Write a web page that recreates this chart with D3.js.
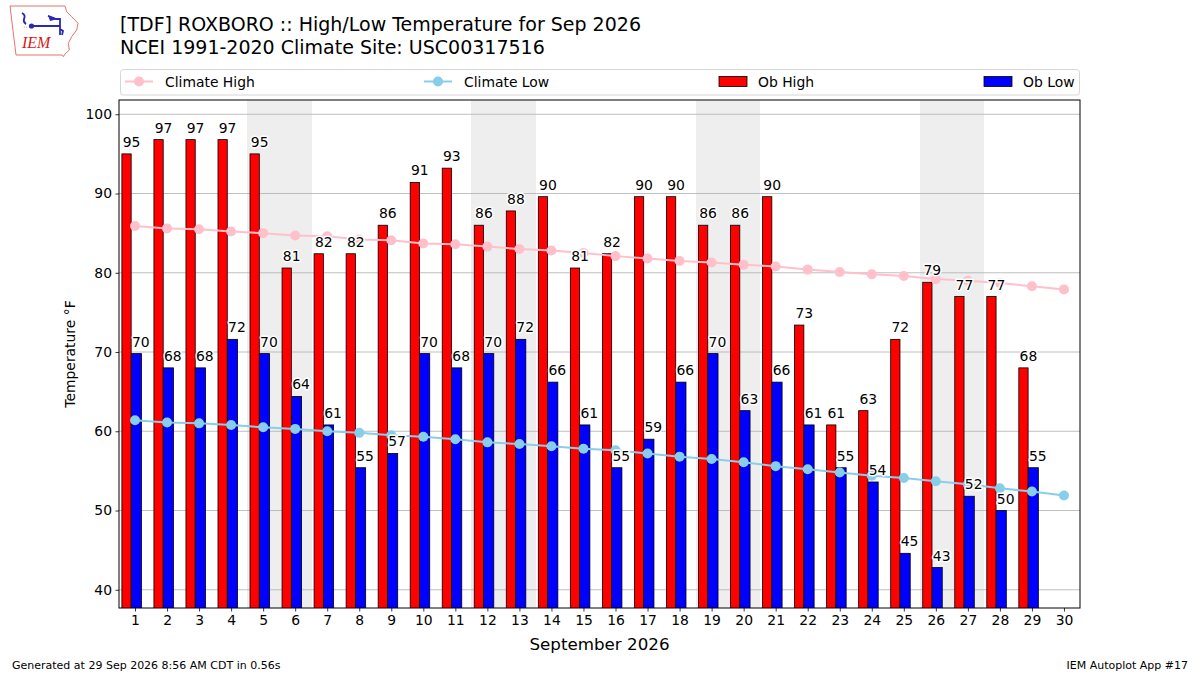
<!DOCTYPE html>
<head>
<meta charset="utf-8">
<style>
body { margin: 0; background: #fff; }
svg text { font-family: 'DejaVu Sans', sans-serif; }
.grid line { stroke: #b0b0b0; stroke-width: 0.8; }
.wk { shape-rendering: crispEdges; }
.lbl { font-size: 13.9px; fill: #000; stroke: #fff; stroke-width: 3; paint-order: stroke; stroke-linejoin: round; }
</style>
</head>
<body>
<div id="chart1"></div>
<script src="https://d3js.org/d3.v7.min.js"></script>
<script>

// data (°F)
var days = d3.range(1, 31);
var obHigh = [95.0, 96.8, 96.8, 96.8, 95.0, 80.6, 82.4, 82.4, 86.0, 91.4,
              93.2, 86.0, 87.8, 89.6, 80.6, 82.4, 89.6, 89.6, 86.0, 86.0,
              89.6, 73.4, 60.8, 62.6, 71.6, 78.8, 77.0, 77.0, 68.0, null];
var obLow = [69.8, 68.0, 68.0, 71.6, 69.8, 64.4, 60.8, 55.4, 57.2, 69.8,
             68.0, 69.8, 71.6, 66.2, 60.8, 55.4, 59.0, 66.2, 69.8, 62.6,
             66.2, 60.8, 55.4, 53.6, 44.6, 42.8, 51.8, 50.0, 55.4, null];
var climHigh = [85.9, 85.6, 85.5, 85.2, 85.0, 84.7, 84.6, 84.2, 84.1, 83.7,
                83.6, 83.3, 83.0, 82.8, 82.5, 82.1, 81.8, 81.5, 81.3, 81.0,
                80.8, 80.4, 80.1, 79.8, 79.6, 79.2, 79.0, 78.7, 78.3, 77.9];
var climLow = [61.4, 61.1, 61.0, 60.8, 60.5, 60.3, 60.0, 59.8, 59.5, 59.3,
               59.0, 58.6, 58.4, 58.1, 57.8, 57.6, 57.2, 56.8, 56.5, 56.1,
               55.6, 55.2, 54.8, 54.4, 54.1, 53.7, 53.3, 52.8, 52.4, 51.9];
var yTicks = [40, 50, 60, 70, 80, 90, 100];

var W = 1200, H = 675;
var plot = {left: 119, right: 1080, top: 100, bottom: 608};

var svg = d3.select('#chart1').append('svg')
    .attr('width', W).attr('height', H);

var x = d3.scaleLinear().domain([0.5, 30.5]).range([plot.left, plot.right]);
var y = d3.scaleLinear().domain([37.7, 101.8]).range([plot.bottom, plot.top]);
var fmt = d3.format('.0f');

svg.append('clipPath').attr('id', 'clip')
  .append('rect')
    .attr('x', plot.left).attr('y', plot.top)
    .attr('width', plot.right - plot.left).attr('height', plot.bottom - plot.top);

var g = svg.append('g').attr('clip-path', 'url(#clip)');

// weekend shading
var weekends = days.filter(function(d) {
  var wd = new Date(2026, 8, d).getDay();
  return wd === 0 || wd === 6;
});
g.selectAll('.wk')
  .data(weekends)
  .enter().append('rect')
    .attr('class', 'wk')
    .attr('x', function(d) { return x(d - 0.5); })
    .attr('y', plot.top)
    .attr('width', x(1.5) - x(0.5) + 0.5)
    .attr('height', plot.bottom - plot.top)
    .attr('fill', '#eeeeee');

// grid
g.append('g').attr('class', 'grid')
  .selectAll('line')
  .data(yTicks)
  .enter().append('line')
    .attr('x1', plot.left).attr('x2', plot.right)
    .attr('y1', function(d) { return y(d); })
    .attr('y2', function(d) { return y(d); });

function bars(vals, off, w, color) {
  g.selectAll(null)
    .data(days.filter(function(d, i) { return vals[i] !== null; }))
    .enter().append('rect')
      .attr('x', function(d) { return x(d + off); })
      .attr('y', function(d) { return y(vals[d - 1]); })
      .attr('width', x(w) - x(0))
      .attr('height', function(d) { return y(0) - y(vals[d - 1]); })
      .attr('fill', color)
      .attr('stroke', '#000')
      .attr('stroke-width', 0.8);
}
bars(obHigh, -0.41, 0.29, '#ff0000');
bars(obLow, -0.12, 0.32, '#0000ff');

function climLine(vals, color) {
  var line = d3.line()
    .x(function(d) { return x(d); })
    .y(function(d) { return y(vals[d - 1]); });
  g.append('path')
    .datum(days)
    .attr('d', line)
    .attr('fill', 'none')
    .attr('stroke', color)
    .attr('stroke-width', 2);
  g.selectAll(null)
    .data(days)
    .enter().append('circle')
      .attr('cx', function(d) { return x(d); })
      .attr('cy', function(d) { return y(vals[d - 1]); })
      .attr('r', 5)
      .attr('fill', color);
}
climLine(climHigh, '#ffc0cb');
climLine(climLow, '#87ceeb');

function labels(vals, off) {
  svg.selectAll(null)
    .data(days.filter(function(d, i) { return vals[i] !== null; }))
    .enter().append('text')
      .attr('class', 'lbl')
      .attr('x', function(d) { return x(d + off) + 0.8; })
      .attr('y', function(d) { return y(vals[d - 1]) - 7; })
      .text(function(d) { return fmt(vals[d - 1]); });
}
labels(obHigh, -0.41);
labels(obLow, -0.12);

// axes
var xAxis = svg.append('g')
    .attr('transform', 'translate(0,' + plot.bottom + ')')
    .call(d3.axisBottom(x).tickValues(days).tickFormat(d3.format('d')).tickSizeOuter(0).tickSize(3.5).tickPadding(3.5));
var yAxis = svg.append('g')
    .attr('transform', 'translate(' + plot.left + ',0)')
    .call(d3.axisLeft(y).tickValues(yTicks).tickSizeOuter(0).tickSize(3.5).tickPadding(3.5));
[xAxis, yAxis].forEach(function(a) {
  a.select('.domain').remove();
  a.selectAll('text').style('font-size', '13.9px').style('font-family', 'DejaVu Sans').attr('fill', '#000');
  a.selectAll('line').attr('stroke', '#000').attr('stroke-width', 0.8);
});

svg.append('rect')
    .attr('x', plot.left).attr('y', plot.top)
    .attr('width', plot.right - plot.left).attr('height', plot.bottom - plot.top)
    .attr('fill', 'none').attr('stroke', '#000').attr('stroke-width', 1);

svg.append('text')
    .attr('transform', 'translate(75,' + ((plot.top + plot.bottom) / 2) + ') rotate(-90)')
    .attr('text-anchor', 'middle')
    .style('font-size', '13.9px')
    .text('Temperature °F');

svg.append('text')
    .attr('x', (plot.left + plot.right) / 2).attr('y', 650)
    .attr('text-anchor', 'middle')
    .style('font-size', '16.7px')
    .text('September 2026');

// titles
svg.append('text').attr('x', 120).attr('y', 31)
    .style('font-size', '19px').text('[TDF] ROXBORO :: High/Low Temperature for Sep 2026');
svg.append('text').attr('x', 120).attr('y', 54)
    .style('font-size', '19px').text('NCEI 1991-2020 Climate Site: USC00317516');

// legend
var leg = svg.append('g');
leg.append('rect')
    .attr('x', 120.5).attr('y', 69.5).attr('width', 959).attr('height', 25.5)
    .attr('rx', 3).attr('fill', '#fff').attr('stroke', '#d6d6d6');
var legItems = [
  {name: 'Climate High', color: '#ffc0cb', type: 'line', x: 125},
  {name: 'Climate Low', color: '#87ceeb', type: 'line', x: 424},
  {name: 'Ob High', color: '#ff0000', type: 'bar', x: 719},
  {name: 'Ob Low', color: '#0000ff', type: 'bar', x: 984}
];
legItems.forEach(function(it) {
  if (it.type === 'line') {
    leg.append('line').attr('x1', it.x).attr('x2', it.x + 28).attr('y1', 81.5).attr('y2', 81.5)
      .attr('stroke', it.color).attr('stroke-width', 2);
    leg.append('circle').attr('cx', it.x + 14).attr('cy', 81.5).attr('r', 5).attr('fill', it.color);
    leg.append('text').attr('x', it.x + 40).attr('y', 86.5).style('font-size', '13.9px').text(it.name);
  } else {
    leg.append('rect').attr('x', it.x).attr('y', 76.5).attr('width', 28).attr('height', 10)
      .attr('fill', it.color).attr('stroke', '#000').attr('stroke-width', 0.8);
    leg.append('text').attr('x', it.x + 39).attr('y', 86.5).style('font-size', '13.9px').text(it.name);
  }
});

// footer
svg.append('text').attr('x', 12).attr('y', 669).style('font-size', '11px')
    .text('Generated at 29 Sep 2026 8:56 AM CDT in 0.56s');
svg.append('text').attr('x', 1188).attr('y', 669).attr('text-anchor', 'end').style('font-size', '11px')
    .text('IEM Autoplot App #17');

// IEM logo (rough)
var logo = svg.append('g');
logo.append('path')
    .attr('d', 'M10,6 L65,6 L66.7,11.7 L71.7,16.7 L78,23.3 L76.7,30 L71.7,36.7 L68.3,43.3 L69.3,50 L65,54 L63.3,56.7 L62,55 L16,55 L15,46.7 L13.3,33 L11.7,20 Z')
    .attr('fill', 'none').attr('stroke', '#e8736b').attr('stroke-width', 1);
logo.append('path')
    .attr('d', 'M22,13 Q26,15 24,19 Q23,22 26,24 M31,26 L60,26 M48,16 L56,19 L60,19 M60,18 L60,35 M60,29 L63,31 L62,35')
    .attr('fill', 'none').attr('stroke', '#2a2ab0').attr('stroke-width', 1.8);
logo.append('path')
    .attr('d', 'M48,15 L58,19 L50,21 Z').attr('fill', '#2a2ab0');
logo.append('circle').attr('cx', 31.5).attr('cy', 26).attr('r', 2.6).attr('fill', '#2a2ab0');
logo.append('text').attr('x', 23.5).attr('y', 28).style('font-size', '6px').attr('fill', '#2a2ab0').text('∴');
logo.append('text').attr('x', 22).attr('y', 47.5)
    .style('font-family', 'Liberation Serif, serif').style('font-style', 'italic')
    .style('font-size', '16px').attr('fill', '#d42020').text('IEM');

</script>
</body>
